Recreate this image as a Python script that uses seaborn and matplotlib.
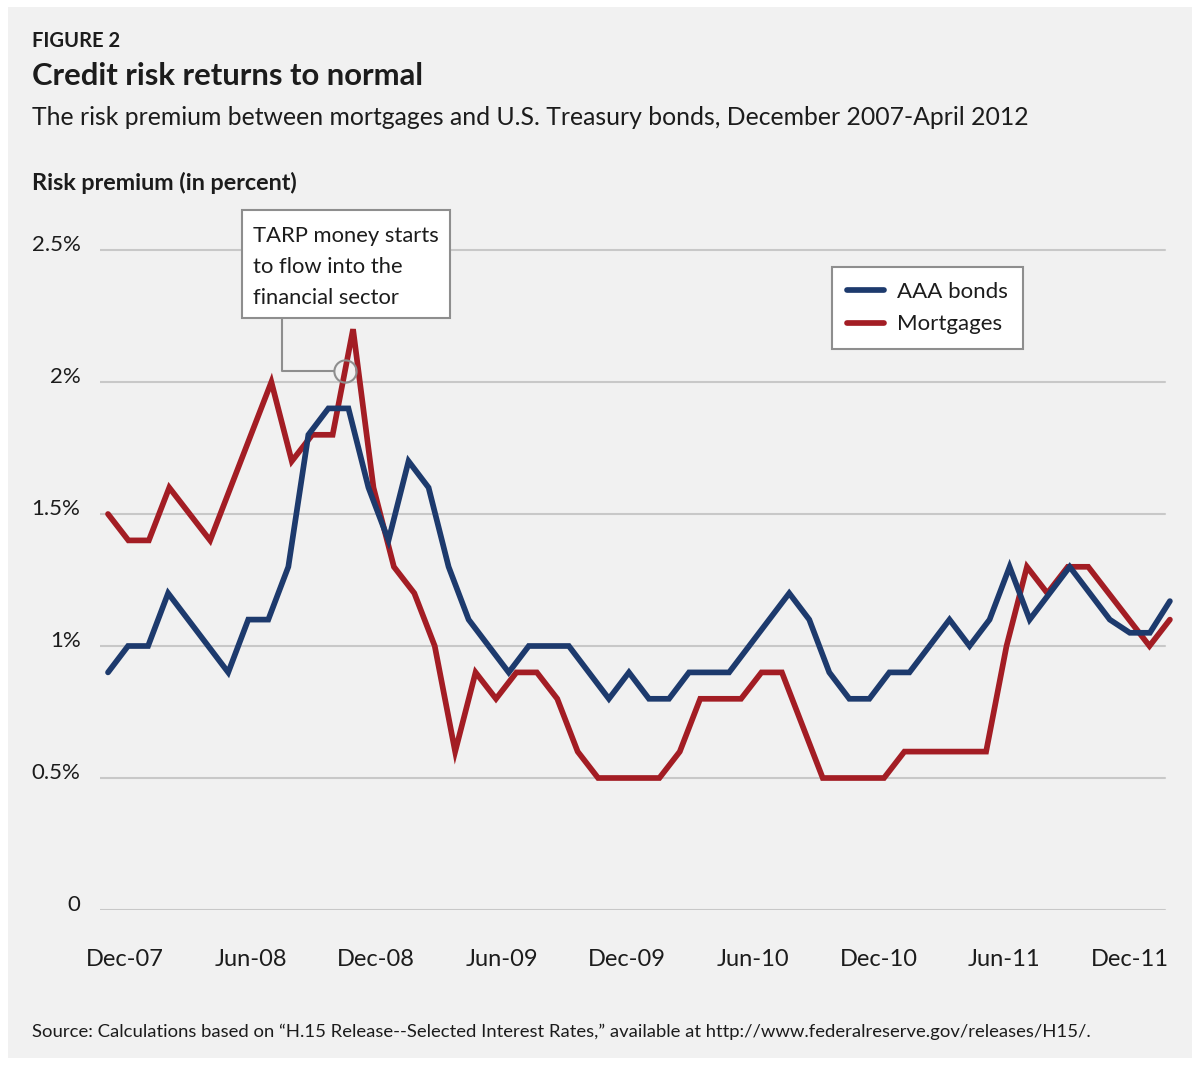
import numpy as np
import pandas as pd
import matplotlib
matplotlib.use("Agg")
import matplotlib.pyplot as plt
import seaborn as sns
from matplotlib import font_manager
from matplotlib.patches import Rectangle
from matplotlib.transforms import ScaledTranslation

# Risk premium over Treasuries, in percent
aaa_bonds = [0.9, 1.0, 1.0, 1.2, 1.1, 1.0, 0.9, 1.1, 1.1, 1.3,
             1.8, 1.9, 1.9, 1.6, 1.4, 1.7, 1.6, 1.3, 1.1, 1.0,
             0.9, 1.0, 1.0, 1.0, 0.9, 0.8, 0.9, 0.8, 0.8, 0.9,
             0.9, 0.9, 1.0, 1.1, 1.2, 1.1, 0.9, 0.8, 0.8, 0.9,
             0.9, 1.0, 1.1, 1.0, 1.1, 1.3, 1.1, 1.2, 1.3, 1.2,
             1.1, 1.05, 1.05, 1.17]
mortgages = [1.5, 1.4, 1.4, 1.6, 1.5, 1.4, 1.6, 1.8, 2.0, 1.7,
             1.8, 1.8, 2.2, 1.6, 1.3, 1.2, 1.0, 0.6, 0.9, 0.8,
             0.9, 0.9, 0.8, 0.6, 0.5, 0.5, 0.5, 0.5, 0.6, 0.8,
             0.8, 0.8, 0.9, 0.9, 0.7, 0.5, 0.5, 0.5, 0.5, 0.6,
             0.6, 0.6, 0.6, 0.6, 1.0, 1.3, 1.2, 1.3, 1.3, 1.2,
             1.1, 1.0, 1.1]
month_labels = ["Dec-07", "Jun-08", "Dec-08", "Jun-09", "Dec-09",
                "Jun-10", "Dec-10", "Jun-11", "Dec-11"]
y_ticks = [0, 0.5, 1, 1.5, 2, 2.5]
y_tick_labels = ["0", "0.5%", "1%", "1.5%", "2%", "2.5%"]

BLUE = "#1d3a6d"
RED = "#a31d24"
GRID = "#c8c8c8"
BOX_EDGE = "#8e8e8e"
TEXT = "#1c1c1c"

sns.set_theme(style="white")
available = {f.name for f in font_manager.fontManager.ttflist}
main_font = "Lato" if "Lato" in available else "DejaVu Sans"
plt.rcParams["font.family"] = [main_font, "DejaVu Sans"]
plt.rcParams["text.color"] = TEXT

W, H = 1200, 1066
fig = plt.figure(figsize=(W / 100, H / 100), dpi=100)
fig.patch.set_facecolor("white")


def fx(px):
    return px / W


def fy(py):
    return 1 - py / H


# light gray card behind everything
fig.patches.append(Rectangle((fx(8), fy(1058)), fx(1184), (1058 - 7) / H,
                             transform=fig.transFigure, facecolor="#f1f1f1",
                             edgecolor="none", zorder=-10))

# both series span the same period, Dec 2007 - Apr 2012
span = len(mortgages) - 1
df = pd.concat([
    pd.DataFrame({"period": np.linspace(0, span, len(mortgages)),
                  "premium": mortgages, "series": "Mortgages"}),
    pd.DataFrame({"period": np.linspace(0, span, len(aaa_bonds)),
                  "premium": aaa_bonds, "series": "AAA bonds"}),
])

ax = fig.add_axes([fx(100), fy(910), fx(1075), (910 - 223.6) / H])
ax.set_facecolor("none")
ax.set_zorder(1)

sns.lineplot(data=df[df.series == "Mortgages"], x="period", y="premium",
             color=RED, linewidth=4.1, ax=ax, label="Mortgages", zorder=3,
             solid_joinstyle="miter")
sns.lineplot(data=df[df.series == "AAA bonds"], x="period", y="premium",
             color=BLUE, linewidth=4.1, ax=ax, label="AAA bonds", zorder=4,
             solid_joinstyle="miter")
for ln in ax.lines:
    ln.set_clip_on(False)

ax.set_xlim(-0.392, 52.25)
ax.set_ylim(0, 2.6)
sns.despine(ax=ax, left=True, bottom=True)

for y in y_ticks:
    ax.axhline(y, xmin=0, xmax=(1165 - 100) / 1075, color=GRID, lw=1.5, zorder=1)

ax.set_yticks(y_ticks, y_tick_labels)
ax.set_xticks(0.83 + 6.15 * np.arange(len(month_labels)), month_labels)
ax.tick_params(axis="both", length=0)
ax.tick_params(axis="y", pad=14, labelsize=16, labelcolor=TEXT)
ax.tick_params(axis="x", pad=28, labelsize=17, labelcolor=TEXT)
for lab in ax.get_yticklabels():
    lab.set_transform(lab.get_transform() + ScaledTranslation(0, 7 / 100, fig.dpi_scale_trans))
ax.set_xlabel("")
ax.set_ylabel("")

# legend, blue entry first
handles, labels = ax.get_legend_handles_labels()
order = [labels.index("AAA bonds"), labels.index("Mortgages")]
leg = ax.legend([handles[i] for i in order], [labels[i] for i in order],
                loc="upper left", bbox_to_anchor=(fx(832), fy(267)),
                bbox_transform=fig.transFigure, frameon=True, fancybox=False,
                edgecolor=BOX_EDGE, facecolor="white", framealpha=1,
                fontsize=16, handlelength=1.65, handletextpad=0.6,
                borderpad=0.68, labelspacing=0.55, borderaxespad=0)
leg.get_frame().set_linewidth(1.5)

# TARP callout
fig.patches.append(Rectangle((fx(242), fy(318)), fx(450 - 242), (318 - 210) / H,
                             transform=fig.transFigure, facecolor="white",
                             edgecolor=BOX_EDGE, lw=1.5, zorder=5))
for i, line in enumerate(["TARP money starts", "to flow into the", "financial sector"]):
    fig.text(fx(253), fy(242 + 31 * i), line, fontsize=15.8, va="baseline",
             ha="left", zorder=6)
cx, cy = 11.6, 1.8 + 0.4 * 0.6
ax.plot([8.52, 8.52, cx - 0.54], [2.242, cy, cy], color=BOX_EDGE, lw=1.5,
        clip_on=False, zorder=5)
ax.plot([cx], [cy], marker="o", ms=16, mfc="none", mec=BOX_EDGE, mew=1.5,
        clip_on=False, zorder=5)

# headings
fig.text(fx(32), fy(47), "FIGURE 2", fontsize=14.5, fontweight="bold", va="baseline")
fig.text(fx(32), fy(85), "Credit risk returns to normal", fontsize=22.3,
         fontweight="bold", va="baseline")
fig.text(fx(32), fy(125),
         "The risk premium between mortgages and U.S. Treasury bonds, December 2007-April 2012",
         fontsize=17.8, va="baseline")
fig.text(fx(32), fy(190), "Risk premium (in percent)", fontsize=16.8,
         fontweight="bold", va="baseline")
fig.text(fx(32), fy(1037),
         "Source: Calculations based on \u201cH.15 Release--Selected Interest Rates,\u201d "
         "available at http://www.federalreserve.gov/releases/H15/.",
         fontsize=13.3, va="baseline")

fig.savefig("out.png", dpi=100, facecolor=fig.get_facecolor())
